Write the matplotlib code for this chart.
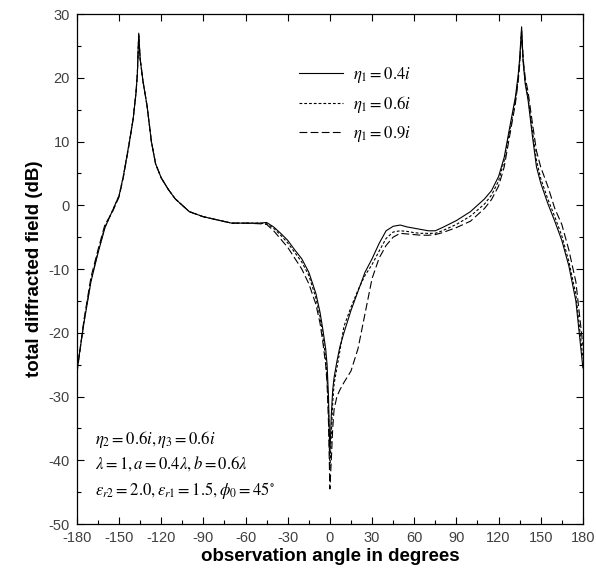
import numpy as np
import matplotlib
matplotlib.use("Agg")
import matplotlib.pyplot as plt
from matplotlib.ticker import MultipleLocator

# ---- data ----
angles = [-180, -175, -170, -165, -160, -155, -150, -147, -143, -140, -138, -137,
          -136, -135, -133, -130, -127, -124, -120, -115, -110,
          -100, -90, -80, -70, -60, -50, -45, -40,
          -35, -30, -25, -20, -15, -10, -7, -5, -3, -2, -1, 0, 1, 2, 3, 5, 7, 10,
          15, 20, 25, 30, 35, 40, 45, 50, 55, 60, 65, 70, 75, 80, 90, 100, 110,
          115, 120, 124, 128, 132, 134, 135, 136.4, 137.5, 139, 141, 144, 147,
          150, 155, 160, 165, 170, 175, 180]

eta_04 = [-26, -18.5, -12, -7.5, -3.5, -1.0, 1.5, 4.5, 9.5, 13.5, 17.5, 20.5,
          27, 23, 19.5, 15.5, 10, 6.5, 4.3, 2.5, 1.0,
          -1.0, -1.8, -2.3, -2.8, -2.8, -2.8, -2.7, -3.4,
          -4.4, -5.5, -7.0, -8.4, -10.5, -13.8, -16.8, -19.5, -22.5, -25, -30, -39, -33, -29, -27, -24.5, -22.3, -20,
          -16.5, -13.5, -10.5, -8.4, -6.0, -4.0, -3.3, -3.1, -3.4, -3.6, -3.8, -4.0, -4.0, -3.5, -2.4, -1.0, 1.0,
          2.3, 4.5, 7.5, 12.3, 17, 20.5, 23, 28, 22.5, 19, 16.5, 11, 6.0,
          3.5, 0.3, -2.5, -5.5, -9.5, -15, -25.5]

eta_06 = [-26, -18.3, -11.8, -7.3, -3.4, -1.0, 1.5, 4.5, 9.5, 13.5, 17.5, 20.5,
          26.8, 23, 19.5, 15.5, 10, 6.5, 4.3, 2.5, 1.0,
          -1.0, -1.8, -2.3, -2.8, -2.8, -2.8, -2.9, -3.6,
          -4.7, -5.9, -7.4, -8.9, -11.0, -14.5, -17.5, -20.5, -24, -27, -32, -41.5, -36, -31, -28, -25.5, -23, -19,
          -16, -13.3, -11, -9.3, -7.2, -5.2, -4.2, -4.0, -4.1, -4.3, -4.4, -4.4, -4.4, -4.0, -3.0, -1.7, 0.2,
          1.6, 3.8, 7.0, 11.8, 16.5, 20, 22.5, 27.5, 22.5, 19.3, 17, 11.8, 7.0,
          4.2, 1.0, -1.8, -4.8, -8.8, -14, -24]

eta_09 = [-26.5, -18, -11.3, -7.0, -3.0, -1.2, 1.3, 4.3, 9.3, 13.5, 17.5, 20.5,
          26.5, 23, 19.5, 15.5, 10, 6.5, 4.3, 2.5, 1.0,
          -1.0, -1.8, -2.3, -2.8, -2.8, -2.9, -3.0, -4.0,
          -5.3, -6.6, -8.3, -10.0, -12.3, -15.5, -18.5, -21.5, -25, -28, -34, -44.5, -40, -35, -32, -30, -29, -27.8,
          -26, -22.5, -17, -11.5, -8.3, -6.3, -5.0, -4.4, -4.5, -4.6, -4.7, -4.7, -4.6, -4.3, -3.5, -2.5, -0.5,
          0.9, 3.0, 6.0, 11, 16, 19.5, 22, 27, 23, 20, 17.8, 13, 8.5,
          6.0, 3.0, -0.5, -3.0, -7.0, -12, -22]

series_labels = [r"$\eta_1 = 0.4i$", r"$\eta_1 = 0.6i$", r"$\eta_1 = 0.9i$"]
x_ticks = [-180, -150, -120, -90, -60, -30, 0, 30, 60, 90, 120, 150, 180]
y_ticks = [-50, -40, -30, -20, -10, 0, 10, 20, 30]

plt.rcParams['mathtext.fontset'] = 'stix'
plt.rcParams['axes.unicode_minus'] = False
plt.rcParams['font.family'] = ['Liberation Sans', 'DejaVu Sans']

fig = plt.figure(figsize=(5.96, 5.73), dpi=100)
ax = fig.add_axes([0.129, 0.0855, 0.849, 0.89])

styles = [dict(linestyle='-'),
          dict(linestyle=(0, (2.5, 1.8))),
          dict(linestyle=(0, (7, 3)))]
for vals, lab, st in zip([eta_04, eta_06, eta_09], series_labels, styles):
    ax.plot(angles, vals, color='black', linewidth=0.8, label=lab, **st)

ax.set_xlim(-180, 180)
ax.set_ylim(-50, 30)
ax.set_xticks(x_ticks)
ax.set_yticks(y_ticks)
ax.xaxis.set_minor_locator(MultipleLocator(15))
ax.yaxis.set_minor_locator(MultipleLocator(5))
ax.tick_params(which='major', direction='in', length=5, width=0.8,
               top=True, right=True, labelsize=10.5, labelcolor='#404040', pad=5)
ax.tick_params(which='minor', direction='in', length=3, width=0.8,
               top=False, right=True)
for s in ax.spines.values():
    s.set_linewidth(0.9)

ax.set_xlabel("observation angle in degrees", fontsize=13.5, fontweight='bold', labelpad=2)
ax.set_ylabel("total diffracted field (dB)", fontsize=13.5, fontweight='bold', labelpad=4)

leg = ax.legend(loc='upper left', bbox_to_anchor=(0.41, 0.93), frameon=False,
                fontsize=12, handlelength=2.6, handletextpad=0.6, labelspacing=0.55)

tx = 0.036
ax.text(tx, 0.165, r"$\eta_2 = 0.6i, \eta_3 = 0.6i$", transform=ax.transAxes,
        fontsize=12, va='center')
ax.text(tx, 0.118, r"$\lambda = 1, a = 0.4\lambda, b = 0.6\lambda$", transform=ax.transAxes,
        fontsize=12, va='center')
ax.text(tx, 0.066, r"$\varepsilon_{r2} = 2.0, \varepsilon_{r1} = 1.5, \phi_0 = 45^{\circ}$",
        transform=ax.transAxes, fontsize=12, va='center')

fig.savefig("out.png", dpi=100)
